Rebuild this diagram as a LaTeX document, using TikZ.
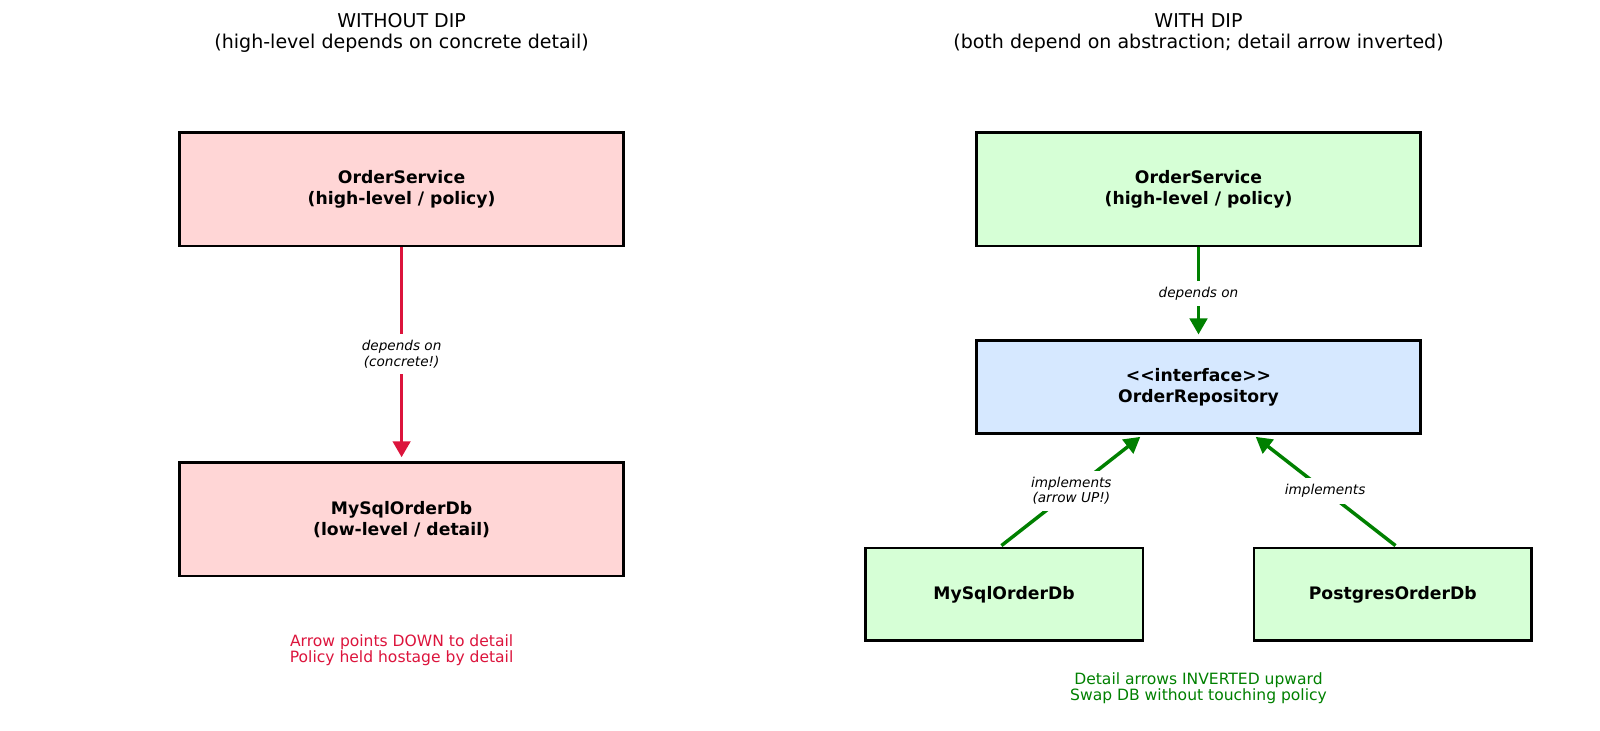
\documentclass[tikz,border=0pt]{standalone}
\usepackage{fontspec}
\setmainfont{DejaVu Sans}
\usetikzlibrary{arrows.meta,calc}
\definecolor{redfill}{HTML}{FFD6D6}
\definecolor{greenfill}{HTML}{D6FFD6}
\definecolor{bluefill}{HTML}{D6E8FF}
\definecolor{crimson}{HTML}{DC143C}
\definecolor{dgreen}{HTML}{008000}
\tikzset{
  box/.style={draw=black, line width=2pt, align=center, inner sep=0pt,
    font=\fontsize{12.4}{14.7}\selectfont\bfseries},
  bigbox/.style={box, minimum width=319.6pt, minimum height=81.5pt},
  ifbox/.style={box, minimum width=319.6pt, minimum height=66.9pt},
  smallbox/.style={box, minimum width=199.9pt, minimum height=66.8pt},
  titletext/.style={align=center, font=\fontsize{13.7}{14.7}\selectfont},
  lbl/.style={fill=white, align=center, inner sep=4.5pt, text=black,
    font=\fontsize{9.8}{11}\selectfont\itshape},
  note/.style={align=center, font=\fontsize{11.2}{11.8}\selectfont},
  arr/.style={line width=2.5pt, -{Triangle[length=11.5pt,width=12.5pt]}},
}
\begin{document}
\begin{tikzpicture}[x=0.72pt, y=-0.72pt]
\useasboundingbox (0,0) rectangle (1600,730);
% left
\node[titletext] (tl) at (401.6,33) {WITHOUT DIP\\(high-level depends on concrete detail)};
\node[bigbox, fill=redfill] (ls) at (401.6,189.3) {\raisebox{-1.5pt}{\parbox{300pt}{\centering OrderService\\(high-level / policy)}}};
\node[bigbox, fill=redfill] (lm) at (401.6,519.4) {\raisebox{-1.5pt}{\parbox{300pt}{\centering MySqlOrderDb\\(low-level / detail)}}};
\draw[arr, crimson, shorten >=3pt] (ls.south) -- node[midway, lbl] {depends on\\(concrete!)} (lm.north);
\node[note, text=crimson] (ln) at (401.6,650) {Arrow points DOWN to detail\\Policy held hostage by detail};
% right
\node[titletext] (tr) at (1198.5,33) {WITH DIP\\(both depend on abstraction; detail arrow inverted)};
\node[bigbox, fill=greenfill] (rs) at (1198.5,189.3) {\raisebox{-1.5pt}{\parbox{300pt}{\centering OrderService\\(high-level / policy)}}};
\node[ifbox, fill=bluefill] (ri) at (1198.5,387.3) {\raisebox{-1.5pt}{\parbox{300pt}{\centering <{}<interface>{}>\\OrderRepository}}};
\node[smallbox, fill=greenfill] (rm) at (1004.1,594.4) {MySqlOrderDb};
\node[smallbox, fill=greenfill] (rp) at (1392.8,594.4) {PostgresOrderDb};
\draw[arr, dgreen, shorten >=3.6pt] (rs.south) -- node[midway, lbl] {depends on} (ri.north);
\draw[arr, dgreen, shorten >=2pt, shorten <=1.2pt] ($(rm.north)+(-4,0)$) -- node[midway, lbl] {implements\\(arrow UP!)} ($(ri.south)+(-56,0)$);
\draw[arr, dgreen, shorten >=2pt, shorten <=1.2pt] ($(rp.north)+(4,0)$) -- node[midway, lbl] {implements} ($(ri.south)+(55,0)$);
\node[note, text=dgreen] (rn) at (1198.5,688) {Detail arrows INVERTED upward\\Swap DB without touching policy};
\end{tikzpicture}
\end{document}
